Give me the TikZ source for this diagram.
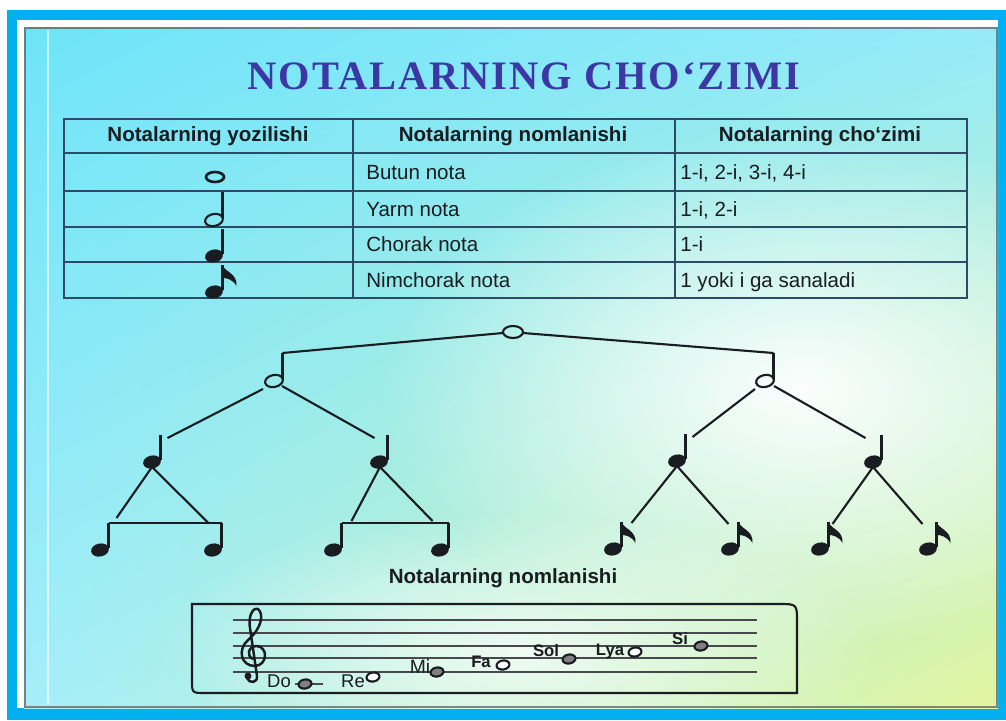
\documentclass[tikz,border=0pt]{standalone}
\usepackage{fontspec}
\setmainfont{Liberation Sans}
\newfontfamily\titlefont[LetterSpace=5]{Liberation Serif}
\usetikzlibrary{calc,fadings,shadings}
\tikzfading[name=glow, inner color=transparent!0, outer color=transparent!100]

\definecolor{frameblue}{RGB}{0,176,240}
\definecolor{titleblue}{RGB}{60,55,165}
\definecolor{tabgray}{RGB}{45,75,100}
\definecolor{inkdark}{RGB}{25,28,32}
\definecolor{bgul}{RGB}{110,228,248}
\definecolor{bgur}{RGB}{150,235,250}
\definecolor{bgll}{RGB}{165,238,250}
\definecolor{bglr}{RGB}{225,245,160}

% notes: #1 x, #2 y, #3 name of the head
\newcommand{\nWhole}[3]{%
  \coordinate (#3) at (#1,#2);
  \draw[notehead] (#3) ellipse [x radius=10, y radius=6];}
\newcommand{\nHalf}[3]{%
  \coordinate (#3) at (#1,#2);
  \coordinate (#3-top) at ($(#3)+(8.5,-28)$);
  \draw[notehead] (#3) ellipse [x radius=9, y radius=6, rotate=12];
  \draw[stem] ($(#3)+(8.5,-2)$) -- (#3-top);}
\newcommand{\nQuarter}[3]{%
  \coordinate (#3) at (#1,#2);
  \coordinate (#3-top) at ($(#3)+(8.5,-27)$);
  \fill[inkdark] (#3) ellipse [x radius=9, y radius=6.5, rotate=12];
  \draw[stem] ($(#3)+(8.5,-2)$) -- (#3-top);}
\newcommand{\nEighth}[3]{%
  \nQuarter{#1}{#2}{#3}
  \fill[inkdark] (#3-top) .. controls ($(#3-top)+(2,7)$) and ($(#3-top)+(15,8)$) .. ($(#3-top)+(14,21)$)
    .. controls ($(#3-top)+(10,14)$) and ($(#3-top)+(4,13)$) .. ($(#3-top)+(0,13)$) -- cycle;}
% small notes on the staff
\newcommand{\nSmall}[4]{%
  \coordinate (#3) at (#1,#2);
  \draw[inkdark, line width=1.2pt, fill=#4] (#3) ellipse [x radius=6.5, y radius=4.5, rotate=10];}

\begin{document}
\begin{tikzpicture}[x=0.02cm,y=-0.02cm,
  notehead/.style={inkdark, line width=1.2pt},
  stem/.style={inkdark, line width=1.5pt},
  link/.style={inkdark, line width=1.2pt},
  tabline/.style={tabgray, line width=0.9pt},
  staffline/.style={inkdark!80, line width=0.85pt},
  hdr/.style={inkdark, font=\fontsize{11.7pt}{14pt}\selectfont\bfseries},
  cell/.style={inkdark, anchor=west, inner sep=0pt, text height=8.4pt, text depth=0pt, font=\fontsize{11.7pt}{14pt}\selectfont},
  lbl/.style={inkdark, inner sep=0pt, font=\fontsize{9.5pt}{10pt}\selectfont\bfseries}]
\useasboundingbox (0,0) rectangle (1006,720);
\fill[white] (0,0) rectangle (1006,720);
%
\fill[frameblue] (7,10) rectangle (1006,720);
\fill[white] (17,20) rectangle (998,708);
\begin{scope}
  \clip (24,27) rectangle (998,708);
  \shade[upper left=bgul, upper right=bgur, lower left=bgll, lower right=bglr] (24,27) rectangle (998,708);
  \fill[white, path fading=glow, opacity=0.95] (800,390) ellipse [x radius=420, y radius=260];
  \fill[white, path fading=glow, opacity=0.75] (520,650) ellipse [x radius=360, y radius=140];
  \draw[white, opacity=0.6, line width=1pt] (48,30) -- (48,705);
\end{scope}
\draw[gray!70!black, opacity=0.7, line width=1.5pt] (25,28) rectangle (997,707);
%
\node[titleblue, font=\titlefont\fontsize{23pt}{26pt}\selectfont\bfseries] (title) at (524,76) {NOTALARNING CHO‘ZIMI};
%
\draw[tabline] (64,119) rectangle (967,298);
\draw[tabline] (64,153) -- (967,153);
\draw[tabline] (64,191) -- (967,191);
\draw[tabline] (64,227) -- (967,227);
\draw[tabline] (64,262) -- (967,262);
\draw[tabline] (353,119) -- (353,298);
\draw[tabline] (675,119) -- (675,298);
\node[hdr] (hd1) at (208,136) {Notalarning yozilishi};
\node[hdr] (hd2) at (513,136) {Notalarning nomlanishi};
\node[hdr] (hd3) at (820,136) {Notalarning cho‘zimi};
\node[cell] (nm1) at (366,172) {Butun nota};
\node[cell] (nm2) at (366,209) {Yarm nota};
\node[cell] (nm3) at (366,244) {Chorak nota};
\node[cell] (nm4) at (366,280) {Nimchorak nota};
\node[cell] (ln1) at (680,172) {1-i, 2-i, 3-i, 4-i};
\node[cell] (ln2) at (680,209) {1-i, 2-i};
\node[cell] (ln3) at (680,244) {1-i};
\node[cell] (ln4) at (680,280) {1 yoki i ga sanaladi};
\draw[notehead, line width=1.5pt] (215,177) ellipse [x radius=9, y radius=5];
\nHalf{214}{220}{th}
\nQuarter{214}{256}{tq}
\nEighth{214}{292}{te}
%
\nWhole{513}{332}{w0}
\nHalf{274}{381}{h1}
\nHalf{765}{381}{h2}
\nQuarter{152}{462}{q1}
\nQuarter{379}{462}{q2}
\nQuarter{677}{461}{q3}
\nQuarter{873}{462}{q4}
\nQuarter{100}{550}{e1}
\nQuarter{213}{550}{e2}
\nQuarter{333}{550}{e3}
\nQuarter{440}{550}{e4}
\nEighth{613}{549}{e5}
\nEighth{730}{549}{e6}
\nEighth{820}{549}{e7}
\nEighth{928}{549}{e8}
\draw[link] (e1-top) -- (e2-top);
\draw[link] (e3-top) -- (e4-top);
\draw[link] ($(w0)+(-10,1)$) -- (h1-top);
\draw[link] ($(w0)+(10,1)$) -- (h2-top);
\draw[link] ($(h1)+(-11,8)$) -- ($(q1-top)+(7,3)$);
\draw[link] ($(h1)+(8,5)$) -- ($(q2-top)+(-13,3)$);
\draw[link] ($(h2)+(-10,8)$) -- ($(q3-top)+(7,3)$);
\draw[link] ($(h2)+(9,5)$) -- ($(q4-top)+(-16,3)$);
\draw[link] ($(q1)+(0,5)$) -- ($(e1-top)+(8,-5)$);
\draw[link] ($(q1)+(0,5)$) -- ($(e2-top)+(-13,0)$);
\draw[link] ($(q2)+(1,5)$) -- ($(e3-top)+(10,-2)$);
\draw[link] ($(q2)+(1,5)$) -- ($(e4-top)+(-16,-2)$);
\draw[link] ($(q3)+(0,5)$) -- ($(e5-top)+(10,1)$);
\draw[link] ($(q3)+(0,5)$) -- ($(e6-top)+(-10,2)$);
\draw[link] ($(q4)+(0,5)$) -- ($(e7-top)+(4,2)$);
\draw[link] ($(q4)+(0,5)$) -- ($(e8-top)+(-14,2)$);
\node[hdr] (cap) at (503,578) {Notalarning nomlanishi};
%
\draw[inkdark, line width=1.2pt] (192,604) -- (779,604) .. controls (797,604) .. (797,622) -- (797,693)
  -- (205,693) .. controls (192,693) .. (192,680) -- cycle;
\draw[staffline] (233,620) -- (757,620);
\draw[staffline] (233,633) -- (757,633);
\draw[staffline] (233,646) -- (757,646);
\draw[staffline] (233,658) -- (757,658);
\draw[staffline] (233,672) -- (757,672);
\draw[inkdark, line width=1.4pt] (253,659) .. controls (246,656) and (248,646) .. (257,646)
  .. controls (268,647) and (268,665) .. (255,666)
  .. controls (241,666) and (237,650) .. (248,640)
  .. controls (262,628) and (264,614) .. (258,609)
  .. controls (252,607) and (248,618) .. (250,628)
  -- (257,676) .. controls (258,683) and (249,684) .. (247,678);
\fill[inkdark] (248,676) circle [radius=3.5];
\draw[staffline] (295,684) -- (323,684);
\nSmall{305}{684}{do}{gray}
\nSmall{373}{677}{re}{white}
\nSmall{437}{672}{mi}{gray}
\nSmall{503}{665}{fa}{white}
\nSmall{569}{659}{sol}{gray}
\nSmall{635}{652}{lya}{white}
\nSmall{701}{646}{si}{gray}
\node[lbl, font=\fontsize{10.5pt}{11pt}\selectfont] (tdo) at (279,681) {Do};
\node[lbl, font=\fontsize{10.5pt}{11pt}\selectfont] (tre) at (353,681) {Re};
\node[lbl, font=\fontsize{11pt}{11pt}\selectfont] (tmi) at (420,666) {Mi};
\node[lbl] (tfa) at (481,662) {Fa};
\node[lbl] (tsol) at (546,651) {Sol};
\node[lbl] (tlya) at (610,651) {Lya};
\node[lbl] (tsi) at (680,639) {Si};
\end{tikzpicture}
\end{document}
